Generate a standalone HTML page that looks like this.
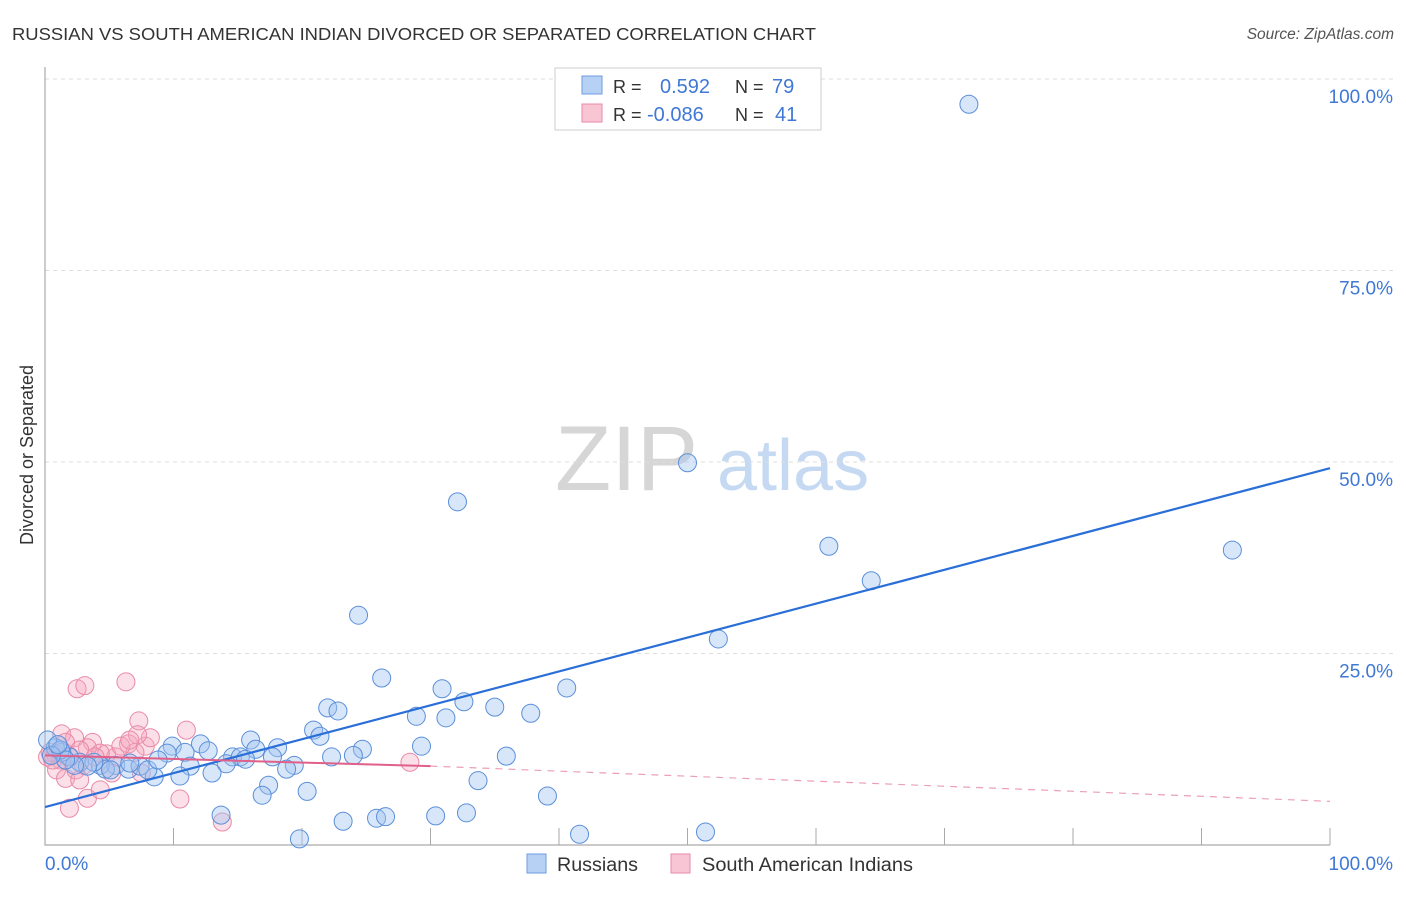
<!DOCTYPE html>
<html><head><meta charset="utf-8"><style>
body{margin:0;background:#fff;font-family:"Liberation Sans",sans-serif;}
svg text{font-family:"Liberation Sans",sans-serif;}
</style></head><body>
<svg id="chart" width="1406" height="892" xmlns="http://www.w3.org/2000/svg">
<text x="12" y="40" font-size="17.5" fill="#333" textLength="804" lengthAdjust="spacingAndGlyphs">RUSSIAN VS SOUTH AMERICAN INDIAN DIVORCED OR SEPARATED CORRELATION CHART</text>
<text x="1394" y="39" font-size="15.5" fill="#555" font-style="italic" text-anchor="end">Source: ZipAtlas.com</text>
<text transform="translate(33,455) rotate(-90)" font-size="18" fill="#333" text-anchor="middle">Divorced or Separated</text>
<g>
<text x="555" y="490" font-size="92" fill="#d6d6d6" font-family="Liberation Serif,serif">ZIP</text>
<text x="717" y="490" font-size="72" fill="#c6d9f2">atlas</text>
</g>
<g id="grid"></g>
<g id="axes"></g>
<g id="pts"></g>
<g id="lines"></g>
<g>
<rect x="555" y="68" width="266" height="62" fill="#fff" stroke="#ccc"/>
<rect x="582" y="76" width="20" height="18" fill="#b7d1f5" stroke="#6d9de0"/>
<rect x="582" y="104" width="20" height="18" fill="#f8c5d5" stroke="#e88aa8"/>
<text x="613" y="93" font-size="18" fill="#333">R =</text>
<text x="660" y="93" font-size="20" fill="#3f78d5">0.592</text>
<text x="735" y="93" font-size="18" fill="#333">N =</text>
<text x="772" y="93" font-size="20" fill="#3f78d5">79</text>
<text x="613" y="121" font-size="18" fill="#333">R =</text>
<text x="647" y="121" font-size="20" fill="#3f78d5">-0.086</text>
<text x="735" y="121" font-size="18" fill="#333">N =</text>
<text x="775" y="121" font-size="20" fill="#3f78d5">41</text>
</g>
<g>
<rect x="527" y="854" width="19" height="19" fill="#b7d1f5" stroke="#6d9de0"/>
<text x="557" y="871" font-size="19" fill="#333" textLength="81" lengthAdjust="spacingAndGlyphs">Russians</text>
<rect x="671" y="854" width="19" height="19" fill="#f8c5d5" stroke="#e88aa8"/>
<text x="702" y="871" font-size="19" fill="#333" textLength="211" lengthAdjust="spacingAndGlyphs">South American Indians</text>
</g>
</svg>
<script>
const yTicks=[25,50,75,100];
const yTickLabels=["25.0%","50.0%","75.0%","100.0%"];
const xTicks=[10,20,30,40,50,60,70,80,90,100];
const russX=[71.9,50.0,32.1,61.0,92.4,64.3,24.4,52.4,26.2,40.6,30.9,32.6,22.0,22.8,35.0,37.8,28.9,31.2,20.9,21.4,16.0,29.3,35.9,24.7,24.0,22.3,9.9,12.1,12.7,10.9,16.4,18.1,14.6,15.2,15.6,17.7,14.1,19.4,18.8,11.3,13.0,10.5,8.5,9.5,5.5,6.5,7.4,8.0,4.3,4.7,2.7,3.8,1.9,1.3,0.8,0.2,3.3,2.3,33.7,17.4,16.9,20.4,39.1,13.7,23.2,25.8,26.5,30.4,32.8,19.8,41.6,51.4,1.2,1.6,0.5,1.0,5.1,6.6,8.8];
const russY=[96.7,49.9,44.8,39.0,38.5,34.5,30.0,26.9,21.8,20.5,20.4,18.7,17.9,17.5,18.0,17.2,16.8,16.6,15.0,14.2,13.7,12.9,11.6,12.5,11.7,11.5,12.9,13.2,12.3,12.1,12.5,12.7,11.5,11.5,11.2,11.5,10.6,10.4,9.9,10.3,9.4,9.0,8.9,12.0,10.4,9.9,10.3,9.8,10.4,9.9,10.8,10.8,11.5,12.1,12.7,13.7,10.3,10.4,8.4,7.8,6.5,7.0,6.4,3.9,3.1,3.5,3.7,3.8,4.2,0.8,1.4,1.7,12.4,11.1,11.7,13.1,9.8,10.7,11.1];
const saiX=[2.5,3.1,6.3,7.3,11.0,1.3,2.3,1.6,3.7,3.3,6.5,7.8,8.2,7.2,4.8,5.5,0.8,0.2,1.2,1.9,2.7,7.0,5.9,4.3,0.9,1.6,2.4,3.0,5.2,7.5,2.7,10.5,3.3,4.3,1.9,13.8,28.4,0.4,0.6,3.9,6.6];
const saiY=[20.4,20.8,21.3,16.2,15.0,14.5,14.0,13.4,13.4,12.7,13.2,12.9,14.0,14.4,11.9,11.5,11.9,11.5,11.1,11.6,12.4,12.1,12.9,12.0,9.8,8.7,9.8,10.4,9.4,9.4,8.5,6.0,6.1,7.2,4.8,3.0,10.8,12.1,11.1,11.5,13.7];
const russTrend=[4.96,49.2];
const saiTrend=[11.7,10.3,5.7];
const saiSolidEnd=30;
const NS="http://www.w3.org/2000/svg";
const X=v=>45+v*12.85, Y=v=>845-v*7.66;
function mk(t,a,p){const e=document.createElementNS(NS,t);for(const k in a)e.setAttribute(k,a[k]);p.appendChild(e);return e;}
const grid=document.getElementById('grid'),axes=document.getElementById('axes'),pts=document.getElementById('pts'),lines=document.getElementById('lines');
yTicks.forEach((t,i)=>{
 const l=mk('line',{x1:45,x2:1394,y1:Y(t),y2:Y(t),stroke:'#ddd','stroke-dasharray':'4,4'},grid);
 
 
 const tx=mk('text',{x:1393,y:Y(t)+24,'font-size':19,fill:'#3f78d5','text-anchor':'end'},axes);
 tx.textContent=yTickLabels[i];
 
 
});
const ax=mk('path',{d:'M45,67V845H1330',fill:'none',stroke:'#aaa','stroke-width':1.2},axes);


xTicks.forEach(t=>{
 const l=mk('line',{x1:X(t),x2:X(t),y1:828,y2:845,stroke:'#aaa'},axes);
 
 
});
const xl0=mk('text',{x:45,y:870,'font-size':19,fill:'#3f78d5'},axes);xl0.textContent='0.0%';


const xl1=mk('text',{x:1393,y:870,'font-size':19,fill:'#3f78d5','text-anchor':'end'},axes);xl1.textContent='100.0%';


saiX.forEach((x,i)=>{
 const c=mk('circle',{cx:X(x),cy:Y(saiY[i]),r:9,fill:'rgba(245,165,192,0.35)',stroke:'#e88aa8','stroke-width':1},pts);
 
 
});
russX.forEach((x,i)=>{
 const c=mk('circle',{cx:X(x),cy:Y(russY[i]),r:9,fill:'rgba(160,196,240,0.42)',stroke:'#5b8fd9','stroke-width':1},pts);
 
 
});
const bl=mk('line',{x1:X(0),y1:Y(russTrend[0]),x2:X(100),y2:Y(russTrend[1]),stroke:'#2a6fd8','stroke-width':2.2},lines);


const pl=mk('line',{x1:X(0),y1:Y(saiTrend[0]),x2:X(saiSolidEnd),y2:Y(saiTrend[1]),stroke:'#e0608a','stroke-width':2},lines);


const pd=mk('line',{x1:X(saiSolidEnd),y1:Y(saiTrend[1]),x2:X(100),y2:Y(saiTrend[2]),stroke:'#eba0b8','stroke-width':1.2,'stroke-dasharray':'7,6'},lines);


</script>
</body></html>
